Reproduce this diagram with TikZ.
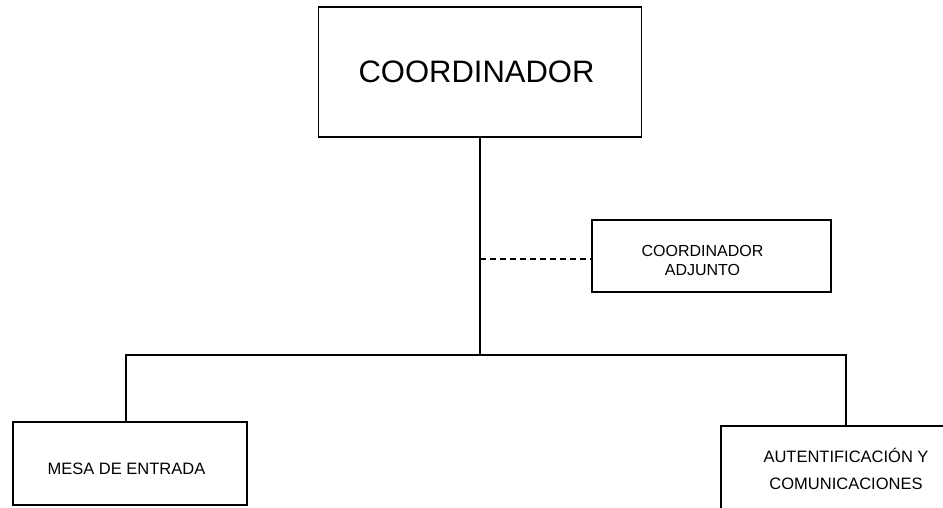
\documentclass[tikz,border=0pt]{standalone}
\usepackage{fontspec}
\setmainfont{Liberation Sans}
\begin{document}
\begin{tikzpicture}[x=1pt,y=-1pt,
  box/.style={draw, line width=1.3pt, inner sep=0pt, align=center},
  link/.style={line width=1.3pt},
  big/.style={font=\fontsize{31}{36}\selectfont},
  small/.style={font=\fontsize{16}{19}\selectfont}]
\useasboundingbox (0,0) rectangle (943,507);
\clip (0,0) rectangle (943,507);
\node[box, big, minimum width=323pt, minimum height=130pt] (coord) at (480,72) {\hspace*{-7pt}COORDINADOR};
\node[box, small, minimum width=239pt, minimum height=72pt] (adj) at (711.5,256)
  {\raisebox{-10.6pt}[0pt][0pt]{\hspace*{-18pt}\begin{tabular}{@{}c@{}}COORDINADOR\\ADJUNTO\end{tabular}}};
\node[box, font=\fontsize{16.5}{20}\selectfont, minimum width=234pt, minimum height=83pt] (mesa) at (130,463.5)
  {\raisebox{-10.5pt}[0pt][0pt]{\hspace*{-7pt}MESA DE ENTRADA}};
\node[box, font=\fontsize{16.5}{27}\selectfont, minimum width=250pt, minimum height=86pt] (auth) at (846,469) {AUTENTIFICACIÓN Y\\COMUNICACIONES};
\coordinate (bus) at (480,355);
\coordinate (lb) at (126,355);
\coordinate (rb) at (846,355);
\draw[link] (coord.south) -- (bus);
\draw[link] (mesa.north -| lb) -- (lb) -- (rb) -- (auth.north -| rb);
\draw[link, dash pattern=on 6pt off 4pt, line width=1.1pt] (coord.south |- 0,259) -- (adj.west |- 0,259);
\end{tikzpicture}
\end{document}
